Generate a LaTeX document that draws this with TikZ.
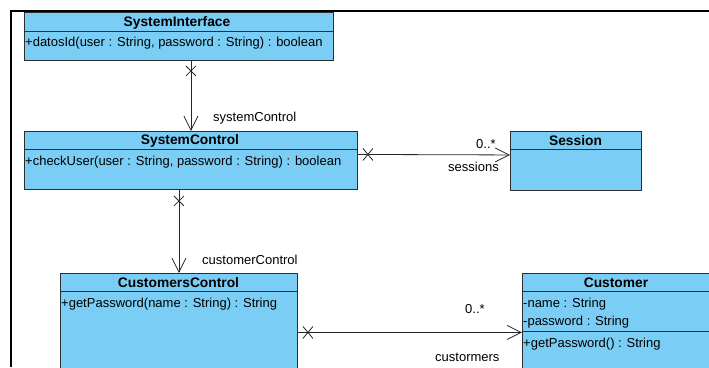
\documentclass[tikz,border=0pt]{standalone}
\usepackage{fontspec}
\setmainfont{Liberation Sans}
\usetikzlibrary{arrows.meta,calc}
\definecolor{umlfill}{RGB}{122,206,245}
\definecolor{umlline}{RGB}{45,45,45}
\tikzset{
 classbox/.style={draw=umlline, fill=umlfill, line width=0.9pt, anchor=north west, inner sep=0pt},
 divider/.style={draw=umlline, line width=0.9pt},
 classtitle/.style={font=\fontsize{13.8}{15}\selectfont\bfseries, inner sep=0pt, anchor=center},
 member/.style={font=\fontsize{13}{15}\selectfont, inner sep=0pt, anchor=west},
 lbl/.style={font=\fontsize{13}{15}\selectfont, inner sep=0pt, anchor=west},
 assoc/.style={draw=black!85, line width=0.8pt, -{Straight Barb[length=14pt,width=14pt]}},
 xmark/.style={draw=black!85, line width=0.8pt},
}
\begin{document}
\begin{tikzpicture}[x=1pt,y=-1pt]
\useasboundingbox (0,0) rectangle (709,367);
\clip (0,0) rectangle (709,367);
\fill[white] (0,0) rectangle (709,367);
\draw[line width=2pt] (11,367) -- (11,11) -- (709,11);

% SystemInterface
\node[classbox, minimum width=309pt, minimum height=48pt] (si) at (24,12) {};
\draw[divider] (24,31) -- (333,31);
\node[classtitle] (sit) at (177,22.5) {SystemInterface};
\node[member] (sim) at (25,43.5) {+datosId(user : String, password : String) : boolean};

% SystemControl
\node[classbox, minimum width=333pt, minimum height=58pt] (sc) at (24,131) {};
\draw[divider] (24,149) -- (357,149);
\node[classtitle] (sct) at (190,141) {SystemControl};
\node[member] (scm) at (25,162) {+checkUser(user : String, password : String) : boolean};

% Session
\node[classbox, minimum width=131pt, minimum height=59pt] (ses) at (510,131) {};
\draw[divider] (510,149) -- (641,149);
\node[classtitle] (sest) at (575.5,141) {Session};

% CustomersControl
\node[classbox, minimum width=237pt, minimum height=118pt] (cc) at (60,273) {};
\draw[divider] (60,291) -- (297,291);
\node[classtitle] (cct) at (178.5,283) {CustomersControl};
\node[member] (ccm) at (61,304) {+getPassword(name : String) : String};

% Customer
\node[classbox, minimum width=190pt, minimum height=118pt] (cu) at (522,273) {};
\draw[divider] (522,291) -- (712,291);
\draw[divider] (522,331) -- (712,331);
\node[classtitle] (cut) at (616,283) {Customer};
\node[member] (cum1) at (523,304) {-name : String};
\node[member] (cum2) at (523,322) {-password : String};
\node[member] (cum3) at (523,344) {+getPassword() : String};

% SystemInterface -> SystemControl
\coordinate (a1) at (sc.north |- si.south);
\draw[assoc] (a1) -- (sc.north);
\draw[xmark] ($(a1)+(-5,5)$) -- ($(a1)+(5,15)$);
\draw[xmark] ($(a1)+(5,5)$) -- ($(a1)+(-5,15)$);
\node[lbl] (l1) at (213,118) {systemControl};

% SystemControl -> CustomersControl
\coordinate (a2) at (cc.north |- sc.south);
\draw[assoc] (a2) -- (cc.north);
\draw[xmark] ($(a2)+(-5,6)$) -- ($(a2)+(5,16)$);
\draw[xmark] ($(a2)+(5,6)$) -- ($(a2)+(-5,16)$);
\node[lbl] (l2) at (202,260) {customerControl};

% SystemControl -> Session
\coordinate (a3) at ($(sc.east)+(0,-6)$);
\coordinate (b3) at ($(ses.west)+(0,-6)$);
\draw[assoc] (a3) -- (b3);
\draw[xmark] ($(a3)+(5,-6)$) -- ($(a3)+(15,6)$);
\draw[xmark] ($(a3)+(5,6)$) -- ($(a3)+(15,-6)$);
\node[lbl] (l3a) at (476,144) {0..*};
\node[lbl] (l3b) at (448,167) {sessions};

% CustomersControl -> Customer
\draw[assoc] (cc.east) -- (cu.west);
\draw[xmark] ($(cc.east)+(5,-6)$) -- ($(cc.east)+(15,6)$);
\draw[xmark] ($(cc.east)+(5,6)$) -- ($(cc.east)+(15,-6)$);
\node[lbl] (l4a) at (465,309) {0..*};
\node[lbl] (l4b) at (435,357) {custormers};
\end{tikzpicture}
\end{document}
